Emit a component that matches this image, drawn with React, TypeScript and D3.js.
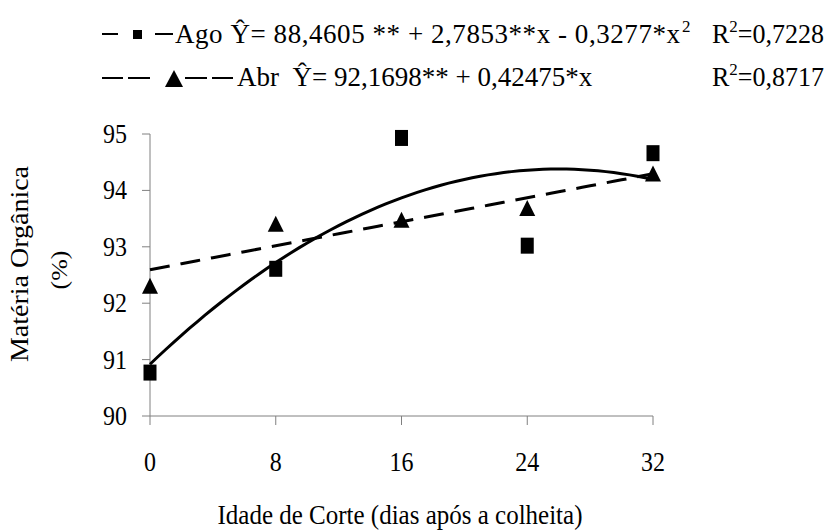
import React from 'react';
import * as d3 from 'd3';

// Idade de corte (dias) and observed values
const xValues = [0, 8, 16, 24, 32];
const agoValues = [90.77, 92.61, 94.93, 93.02, 94.66];
const abrValues = [92.31, 93.41, 93.48, 93.69, 94.3];

// regression coefficients from the legend (x = harvest index 1..5)
const agoCoef = [88.4605, 2.7853, -0.3277];
const abrCoef = [92.1698, 0.42475];

const xTicks = [0, 8, 16, 24, 32];
const yTicks = [90, 91, 92, 93, 94, 95];

const W = 828;
const H = 531;

const polyAt = (coef: number[], k: number) =>
    coef.reduce((s, c, i) => s + c * Math.pow(k, i), 0);

// text with a slight vertical stretch, like the original export
const T = ({ x, y, sy = 1.12, rot = 0, children, ...rest }: any) => (
    <text transform={`translate(${x},${y}) rotate(${rot}) scale(1,${sy})`} {...rest}>{children}</text>
);

const App = () => {
    const x = d3.scaleLinear().domain([0, 32]).range([150, 653]);
    const y = d3.scaleLinear().domain([90, 95]).range([416, 134]);

    // trend curves drawn from the fitted equations
    const fitX = d3.range(0, 32.001, 0.5);
    const line = d3.line<number[]>().x(d => x(d[0])).y(d => y(d[1]));
    const agoFit = line(fitX.map(v => [v, polyAt(agoCoef, v / 8 + 1)]));
    const abrFit = line(fitX.map(v => [v, polyAt(abrCoef, v / 8 + 1)]));

    const tri = (cx: number, cy: number, w: number, h: number) =>
        `M${cx},${cy - h / 2}L${cx + w / 2},${cy + h / 2}L${cx - w / 2},${cy + h / 2}Z`;

    const axisColor = '#808080';

    return (
        <svg width={W} height={H} style={{ position: 'absolute', left: 0, top: 0, background: '#fff', fontFamily: 'Liberation Serif, serif' }}
            fill="#000">
            {/* legend */}
            <g fontSize={27}>
                <line x1={102} x2={118} y1={34} y2={34} stroke="#000" strokeWidth={2} />
                <rect x={133} y={30} width={9} height={9} fill="#000" />
                <line x1={155} x2={173} y1={34} y2={34} stroke="#000" strokeWidth={2} />
                <T x={175} y={43} sy={1.02} textLength={505} lengthAdjust="spacing">Ago {'\u0176'}= 88,4605 ** + 2,7853**x - 0,3277*x</T>
                <T x={682} y={32} sy={1.02} fontSize={17}>2</T>
                <T x={712} y={43} sy={1.02} fontSize={26}>R<tspan dy={-11} fontSize={17}>2</tspan><tspan dy={11}>=0,7228</tspan></T>

                <line x1={102} x2={123} y1={78} y2={78} stroke="#000" strokeWidth={2} />
                <line x1={128} x2={150} y1={78} y2={78} stroke="#000" strokeWidth={2} />
                <path d={tri(174, 78.5, 18, 17)} fill="#000" />
                <line x1={185} x2={207} y1={78} y2={78} stroke="#000" strokeWidth={2} />
                <line x1={212} x2={233} y1={78} y2={78} stroke="#000" strokeWidth={2} />
                <T x={237} y={86} sy={1.02} style={{ whiteSpace: 'pre' }}>Abr  {'\u0176'}= 92,1698** + 0,42475*x</T>
                <T x={712} y={86} sy={1.02} fontSize={26}>R<tspan dy={-11} fontSize={17}>2</tspan><tspan dy={11}>=0,8717</tspan></T>
            </g>

            {/* axes */}
            <line x1={x(0)} x2={x(0)} y1={y(95)} y2={y(90)} stroke={axisColor} />
            <line x1={x(0)} x2={x(32)} y1={y(90)} y2={y(90)} stroke={axisColor} />
            {yTicks.map(t => (
                <g key={'y' + t}>
                    <line x1={x(0) - 8} x2={x(0)} y1={y(t)} y2={y(t)} stroke={axisColor} />
                    <T x={127} y={y(t) + 9} textAnchor="end" fontSize={24}>{t}</T>
                </g>
            ))}
            {xTicks.map(t => (
                <g key={'x' + t}>
                    <line x1={x(t)} x2={x(t)} y1={y(90)} y2={y(90) + 9} stroke={axisColor} />
                    <T x={x(t)} y={471} textAnchor="middle" fontSize={24}>{t}</T>
                </g>
            ))}

            <T x={400} y={524} textAnchor="middle" fontSize={25}>Idade de Corte (dias após a colheita)</T>
            <T x={28} y={264} rot={-90} sy={0.88} textAnchor="middle" fontSize={28}>Matéria Orgânica</T>
            <T x={67} y={270} rot={-90} sy={0.9} textAnchor="middle" fontSize={26}>(%)</T>

            {/* fitted lines */}
            <path d={abrFit ?? ''} fill="none" stroke="#000" strokeWidth={3} strokeDasharray="20,11" />
            <path d={agoFit ?? ''} fill="none" stroke="#000" strokeWidth={3} />

            {/* markers */}
            {xValues.map((v, i) => (
                <rect key={'s' + v} x={x(v) - 6.5} y={y(agoValues[i]) - 8} width={13} height={16} fill="#000" />
            ))}
            {xValues.map((v, i) => (
                <path key={'t' + v} d={tri(x(v), y(abrValues[i]), 16, 16)} fill="#000" />
            ))}
        </svg>
    );
};

export default App;
